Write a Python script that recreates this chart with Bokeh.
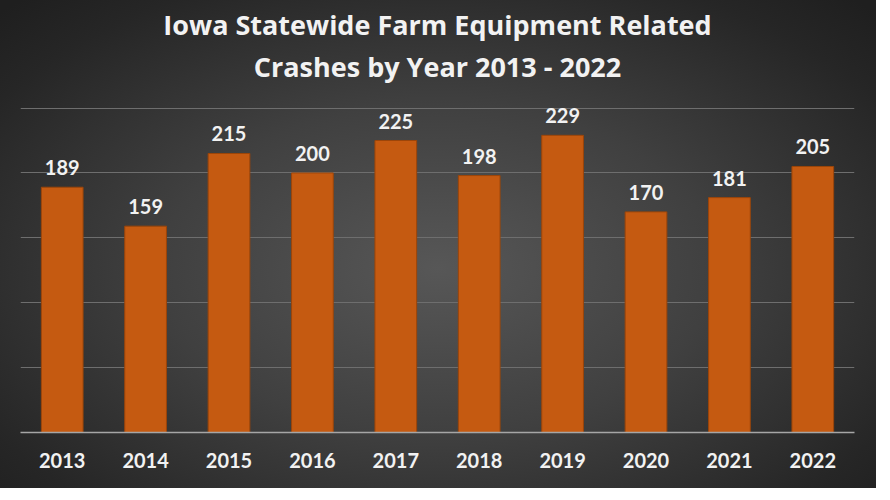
from bokeh.plotting import figure
from bokeh.models import ColumnDataSource, Range1d, FixedTicker, Title, LabelSet
from bokeh.core.properties import value
from bokeh.embed import file_html
from bokeh.resources import INLINE

years = ["2013", "2014", "2015", "2016", "2017", "2018", "2019", "2020", "2021", "2022"]
crashes = [189, 159, 215, 200, 225, 198, 229, 170, 181, 205]
grid_ticks = [50, 100, 150, 200, 250]
title_lines = ["Iowa Statewide Farm Equipment Related", "Crashes by Year 2013 - 2022"]

src = ColumnDataSource(dict(year=years, n=crashes, lbl=[str(v) for v in crashes]))

p = figure(x_range=years, y_range=Range1d(0, 262), width=876, height=488,
           output_backend="svg", toolbar_location=None,
           min_border_left=20, min_border_right=22, min_border_top=92, min_border_bottom=56)
p.styles = {"background": "radial-gradient(ellipse 70% 75% at 50% 55%, #575757 0%, #404040 45%, #262626 85%, #1f1f1f 100%)"}
p.background_fill_alpha = 0
p.border_fill_alpha = 0
p.outline_line_color = None

p.vbar(x="year", top="n", width=0.5, source=src, fill_color="#C55A11", line_color="#9c4509", line_width=1)

labels = LabelSet(x="year", y="n", text="lbl", source=src, text_align="center", text_baseline="bottom",
                  y_offset=12, text_color="#F2F2F2", text_font=value("Lato"), text_font_style="bold",
                  text_font_size="20px")
p.add_layout(labels)

p.title = None
p.add_layout(Title(text=title_lines[1], align="center", text_font="Open Sans", text_font_style="bold",
                   text_font_size="27px", text_color="#F2F2F2", standoff=16), "above")
p.add_layout(Title(text=title_lines[0], align="center", text_font="Open Sans", text_font_style="bold",
                   text_font_size="27px", text_color="#F2F2F2", standoff=-11), "above")

p.yaxis.visible = False
p.xgrid.grid_line_color = None
p.ygrid.ticker = FixedTicker(ticks=grid_ticks)
p.ygrid.grid_line_color = "#6e6e6e"
p.ygrid.grid_line_width = 1

p.xaxis.axis_line_color = "#a6a6a6"
p.xaxis.axis_line_width = 1.5
p.xaxis.major_tick_line_color = None
p.xaxis.minor_tick_line_color = None
p.xaxis.major_label_text_color = "#F2F2F2"
p.xaxis.major_label_text_font = "Lato"
p.xaxis.major_label_text_font_style = "bold"
p.xaxis.major_label_text_font_size = "20px"
p.xaxis.major_label_standoff = 14
p.x_range.range_padding = 0

open("out.html", "w").write(file_html(p, INLINE))
